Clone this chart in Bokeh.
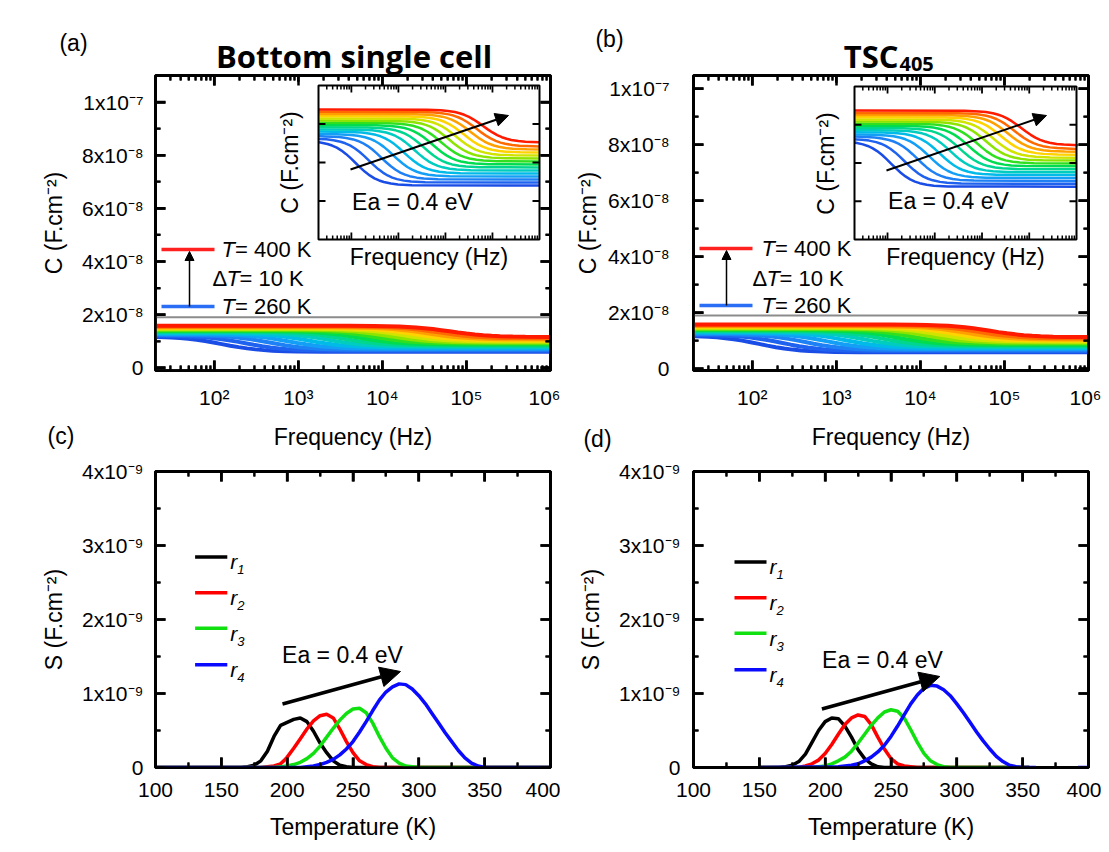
import math
from bokeh.plotting import figure
from bokeh.models import Range1d, LinearAxis, LogAxis, FixedTicker, Label, Arrow, NormalHead, GridBox
from bokeh.embed import file_html
from bokeh.resources import INLINE

FONT = "Liberation Sans"
TITLE_FONT = "Open Sans"

# ---------------------------------------------------------------- data
temperatures_K = [260, 270, 280, 290, 300, 310, 320, 330, 340, 350, 360, 370, 380, 390, 400]
curve_colors = ["#1a4ce6", "#1f62ef", "#1e80f5", "#129ff5", "#00bae8", "#00ccc0", "#00d690",
                "#00dc50", "#30e020", "#8ce400", "#d0e400", "#ffd200", "#ffa000", "#ff6a00", "#ff1a00"]

# capacitance, in units of 1e-8 F/cm2
lowf_C_a = [1.186, 1.214, 1.243, 1.271, 1.301, 1.330, 1.358, 1.387, 1.415, 1.444, 1.473, 1.501, 1.531, 1.560, 1.588]
highf_C_a = [0.601, 0.640, 0.679, 0.718, 0.757, 0.796, 0.835, 0.874, 0.913, 0.952, 0.991, 1.030, 1.069, 1.108, 1.160]
logf_step_a = [2.09, 2.37, 2.64, 2.89, 3.12, 3.34, 3.54, 3.73, 3.91, 4.08, 4.24, 4.39, 4.53, 4.67, 4.80]

lowf_C_b = [1.190, 1.218, 1.246, 1.274, 1.302, 1.330, 1.358, 1.386, 1.414, 1.442, 1.470, 1.498, 1.526, 1.554, 1.585]
highf_C_b = [0.590, 0.628, 0.666, 0.704, 0.742, 0.780, 0.818, 0.856, 0.894, 0.932, 0.970, 1.008, 1.046, 1.084, 1.130]
logf_step_b = [2.08, 2.36, 2.63, 2.88, 3.11, 3.33, 3.53, 3.72, 3.90, 4.08, 4.24, 4.40, 4.55, 4.69, 4.83]

# shape of one step (offset in decades from the step centre, fraction of the step left)
step_offset_dec = [-1.2, -0.9, -0.75, -0.6, -0.5, -0.4, -0.3, -0.2, -0.1, 0.0,
                   0.1, 0.2, 0.3, 0.4, 0.5, 0.6, 0.75, 0.9, 1.2]
step_fraction = [0.993, 0.977, 0.957, 0.923, 0.888, 0.840, 0.776, 0.696, 0.602, 0.500,
                 0.398, 0.304, 0.224, 0.160, 0.112, 0.077, 0.043, 0.023, 0.007]

F_MIN, F_MAX = 20, 1000000
C_MIN = -0.1
INSET_C_MAX = 1.9
freq_major_ticks = [100, 1000, 10000, 100000, 1000000]
freq_major_labels = ["10²", "10³", "10⁴", "10⁵", "10⁶"]
freq_minor_ticks = [m * 10 ** k for k in range(1, 6) for m in range(2, 10) if m * 10 ** k >= 20]
C_major_ticks = [0, 2, 4, 6, 8, 10]
C_major_labels = ["0", "2x10⁻⁸", "4x10⁻⁸", "6x10⁻⁸", "8x10⁻⁸", "1x10⁻⁷"]
C_minor_ticks = [1, 3, 5, 7, 9]
inset_C_ticks = [0.4, 0.9, 1.4]

# S(T) curves, S in units of 1e-9 F/cm2
r1_T_c = [100, 165, 170, 175, 180, 185, 190, 195, 200, 205, 210, 215, 220, 225, 230, 235, 240, 245, 250, 400]
r1_S_c = [0, 0, 0.01, 0.03, 0.09, 0.22, 0.42, 0.57, 0.61, 0.65, 0.67, 0.62, 0.49, 0.33, 0.20, 0.09, 0.03, 0.01, 0, 0]
r2_T_c = [100, 180, 185, 190, 195, 198, 200, 205, 210, 215, 220, 225, 230, 235, 240, 245, 250, 255, 260, 265, 270, 400]
r2_S_c = [0, 0, 0.01, 0.02, 0.05, 0.10, 0.14, 0.26, 0.39, 0.52, 0.63, 0.70, 0.72, 0.67, 0.52, 0.35, 0.20, 0.09, 0.04, 0.01, 0, 0]
r3_T_c = [100, 190, 195, 200, 205, 210, 215, 220, 225, 230, 235, 240, 245, 250, 255, 260, 265, 270, 275, 280, 285, 290, 295, 300, 400]
r3_S_c = [0, 0, 0.01, 0.02, 0.04, 0.07, 0.12, 0.19, 0.29, 0.41, 0.53, 0.64, 0.73, 0.79, 0.80, 0.74, 0.60, 0.42, 0.26, 0.13, 0.06, 0.02, 0.01, 0, 0]
r4_T_c = [100, 210, 215, 220, 225, 230, 235, 240, 245, 250, 255, 260, 265, 270, 275, 280, 285, 290, 295, 300,
          305, 310, 315, 320, 325, 330, 335, 340, 345, 350, 400]
r4_S_c = [0, 0, 0.01, 0.02, 0.04, 0.07, 0.11, 0.17, 0.25, 0.35, 0.48, 0.62, 0.77, 0.91, 1.02, 1.09, 1.13, 1.12, 1.06, 0.97,
          0.86, 0.73, 0.60, 0.47, 0.35, 0.23, 0.13, 0.06, 0.02, 0, 0]

r1_T_d = [150, 165, 170, 175, 180, 185, 190, 195, 200, 205, 210, 215, 220, 225, 230, 235, 240, 245, 355]
r1_S_d = [0, 0, 0.01, 0.03, 0.08, 0.18, 0.34, 0.50, 0.62, 0.67, 0.66, 0.56, 0.41, 0.24, 0.12, 0.05, 0.01, 0, 0]
r2_T_d = [150, 180, 185, 190, 195, 200, 205, 210, 215, 220, 225, 230, 235, 240, 245, 250, 255, 260, 265, 270, 355]
r2_S_d = [0, 0, 0.02, 0.05, 0.10, 0.19, 0.31, 0.45, 0.58, 0.67, 0.71, 0.69, 0.58, 0.41, 0.25, 0.12, 0.05, 0.02, 0.01, 0, 0]
r3_T_d = [150, 190, 195, 200, 205, 210, 215, 220, 225, 230, 235, 240, 245, 250, 255, 260, 265, 270, 275, 280, 285, 290, 295, 355]
r3_S_d = [0, 0, 0.01, 0.02, 0.05, 0.09, 0.14, 0.22, 0.33, 0.45, 0.57, 0.67, 0.75, 0.78, 0.76, 0.67, 0.51, 0.34, 0.19, 0.09, 0.04, 0.01, 0, 0]
r4_T_d = [150, 210, 215, 220, 225, 230, 235, 240, 245, 250, 255, 260, 265, 270, 275, 280, 285, 290, 295, 300,
          305, 310, 315, 320, 325, 330, 335, 340, 345, 350, 360]
r4_S_d = [0, 0.01, 0.02, 0.03, 0.05, 0.09, 0.14, 0.21, 0.30, 0.42, 0.56, 0.71, 0.86, 0.98, 1.07, 1.11, 1.10, 1.05, 0.97, 0.86,
          0.74, 0.61, 0.48, 0.36, 0.25, 0.15, 0.08, 0.03, 0.01, 0, 0]
r4_tail_T_d = [392, 400]
r4_tail_S_d = [0, 0]

S_colors = ["black", "#ff0000", "#10e010", "#0a0aff"]
S_names = ["1", "2", "3", "4"]
T_major_ticks = [100, 150, 200, 250, 300, 350, 400]
T_minor_ticks = [125, 175, 225, 275, 325, 375]
S_major_ticks = [0, 1, 2, 3, 4]
S_major_labels = ["0", "1x10⁻⁹", "2x10⁻⁹", "3x10⁻⁹", "4x10⁻⁹"]
S_minor_ticks = [0.5, 1.5, 2.5, 3.5]

# ---------------------------------------------------------------- page geometry (pixels)
PAGE_W, PAGE_H = 1101, 842
COL_W = (560, 541)
ROW_H = (452, 390)
LEFT_B = (155, 133)
RIGHT_B = (10, 13)
TOP_B = (75, 19)
BOTTOM_B = (82, 74)


# ---------------------------------------------------------------- helpers
def axis_style(ax, show_labels=True, standoff=10):
    ax.axis_line_width = 2.5
    ax.axis_line_color = "black"
    ax.major_tick_in = 10
    ax.major_tick_out = 0
    ax.minor_tick_in = 5
    ax.minor_tick_out = 0
    ax.major_tick_line_width = 2.5
    ax.minor_tick_line_width = 2
    ax.major_tick_line_color = "black"
    ax.minor_tick_line_color = "black"
    ax.major_label_text_font = FONT
    if show_labels:
        ax.major_label_text_font_size = "21px"
        ax.major_label_text_color = "black"
        ax.major_label_standoff = standoff
    else:
        ax.major_label_text_font_size = "2px"
        ax.major_label_text_alpha = 0
        ax.major_label_standoff = 0
    ax.axis_label_text_font = FONT
    ax.axis_label_text_font_size = "23px"
    ax.axis_label_text_font_style = "normal"
    ax.axis_label_text_color = "black"


def tick_marks(p, xr, yr, fw, fh, xlog, xmaj, xmin, ymaj, ymin, lens=(10, 5), widths=(2.6, 2.0), **kw):
    """Inward tick marks on the four sides of a box, drawn as thin filled bars."""
    uy = (yr[1] - yr[0]) / fh
    if xlog:
        dx = (math.log10(xr[1]) - math.log10(xr[0])) / fw

        def xs(x, n):
            return x * 10 ** (n * dx)
    else:
        ux = (xr[1] - xr[0]) / fw

        def xs(x, n):
            return x + n * ux
    L, R, B, T = [], [], [], []
    for ticks_x, ticks_y, n, w in ((xmaj, ymaj, lens[0], widths[0]), (xmin, ymin, lens[1], widths[1])):
        for t in ticks_x:
            if xr[0] < t < xr[1]:
                lft, rgt = xs(t, -w / 2), xs(t, w / 2)
                L += [lft, lft]
                R += [rgt, rgt]
                B += [yr[0], yr[1] - n * uy]
                T += [yr[0] + n * uy, yr[1]]
        for v in ticks_y:
            if yr[0] < v < yr[1]:
                bot, top = v - w / 2 * uy, v + w / 2 * uy
                L += [xr[0], xs(xr[1], -n)]
                R += [xs(xr[0], n), xr[1]]
                B += [bot, bot]
                T += [top, top]
    p.quad(left=L, right=R, bottom=B, top=T, fill_color="black", line_color=None, **kw)


def geom(col, row):
    page = (sum(COL_W[:col]), sum(ROW_H[:row]))
    borders = (LEFT_B[col], RIGHT_B[col], TOP_B[row], BOTTOM_B[row])
    return page, COL_W[col], ROW_H[row], borders


def mapper(page, borders, fw, fh, xr, yr, xlog):
    fl = page[0] + borders[0]
    ft = page[1] + borders[2]

    def X(px):
        t = (px - fl) / fw
        if xlog:
            a, b = math.log10(xr[0]), math.log10(xr[1])
            return 10 ** (a + t * (b - a))
        return xr[0] + t * (xr[1] - xr[0])

    def Y(py):
        t = (ft + fh - py) / fh
        return yr[0] + t * (yr[1] - yr[0])
    return X, Y


def label(p, x, y, text, size="22px", align="left", baseline="middle", style="normal",
          font=FONT, angle=0.0, x_offset=0, color="black", place=None):
    lab = Label(x=x, y=y, text=text, text_font=font, text_font_size=size, text_align=align,
                text_baseline=baseline, text_font_style=style, angle=angle,
                x_offset=x_offset, text_color=color)
    if place is None:
        p.add_layout(lab)
    else:
        p.add_layout(lab, place)


def build_curves(lowf, highf, centers):
    out = []
    for cl, ch, c in zip(lowf, highf, centers):
        xs = [10 ** (c + o) for o in step_offset_dec]
        ys = [ch + (cl - ch) * fr for fr in step_fraction]
        if xs[0] > F_MIN:
            xs.insert(0, F_MIN)
            ys.insert(0, cl)
        if xs[-1] < F_MAX:
            xs.append(F_MAX)
            ys.append(ch)
        out.append((xs, ys))
    return out


def new_fig(width, height, borders, **kw):
    bl, br, bt, bb = borders
    p = figure(width=width, height=height, output_backend="svg", toolbar_location=None,
               min_border_left=bl, min_border_right=br, min_border_top=bt, min_border_bottom=bb,
               outline_line_color="black", outline_line_width=3,
               background_fill_color="white", border_fill_color="white", **kw)
    p.xgrid.visible = False
    p.ygrid.visible = False
    return p


def c_freq_panel(col, row, yr, lowf, highf, centers, inset_box, ytick_standoff, ylabel_standoff):
    page, width, height, borders = geom(col, row)
    bl, br, bt, bb = borders
    fw, fh = width - bl - br, height - bt - bb
    p = new_fig(width, height, borders, x_axis_type="log",
                x_range=Range1d(F_MIN, F_MAX), y_range=Range1d(yr[0], yr[1]))
    xb = p.xaxis[0]
    yl = p.yaxis[0]
    xb.ticker = FixedTicker(ticks=freq_major_ticks, minor_ticks=freq_minor_ticks)
    xb.major_label_overrides = dict(zip(freq_major_ticks, freq_major_labels))
    axis_style(xb, standoff=15)
    xb.axis_label = "Frequency (Hz)"
    xb.axis_label_standoff = 12
    yl.ticker = FixedTicker(ticks=C_major_ticks, minor_ticks=C_minor_ticks)
    yl.major_label_overrides = dict(zip(C_major_ticks, C_major_labels))
    axis_style(yl, standoff=ytick_standoff)
    yl.axis_label = "C (F.cm⁻²)"
    yl.axis_label_standoff = ylabel_standoff
    top = LogAxis(ticker=FixedTicker(ticks=freq_major_ticks, minor_ticks=freq_minor_ticks))
    axis_style(top, show_labels=False)
    p.add_layout(top, "above")
    right = LinearAxis(ticker=FixedTicker(ticks=C_major_ticks, minor_ticks=C_minor_ticks))
    axis_style(right, show_labels=False)
    p.add_layout(right, "right")

    curves = build_curves(lowf, highf, centers)
    for (xs, ys), c in zip(curves, curve_colors):
        p.line(xs, ys, line_color=c, line_width=4)
    p.quad(left=[F_MIN], right=[F_MAX], bottom=[C_MIN], top=[INSET_C_MAX],
           fill_color=None, line_color="#8c8c8c", line_width=2)
    tick_marks(p, (F_MIN, F_MAX), yr, fw, fh, True, freq_major_ticks, freq_minor_ticks,
               C_major_ticks, C_minor_ticks)

    # inset: same data, magnified into the box given in page pixels
    IL, IT, IR, IB = inset_box
    FL = page[0] + bl
    FT = page[1] + bt
    lx0, lx1 = math.log10(F_MIN), math.log10(F_MAX)
    dpp = (lx1 - lx0) / (IR - IL)
    upp = (INSET_C_MAX - C_MIN) / (IB - IT)
    p.extra_x_ranges = {"ix": Range1d(10 ** (lx0 - (IL - FL) * dpp), 10 ** (lx1 + (FL + fw - IR) * dpp))}
    p.extra_y_ranges = {"iy": Range1d(C_MIN - (FT + fh - IB) * upp, INSET_C_MAX + (IT - FT) * upp)}
    kw = dict(x_range_name="ix", y_range_name="iy")
    for (xs, ys), c in zip(curves, curve_colors):
        p.line(xs, ys, line_color=c, line_width=2.5, **kw)
    p.quad(left=[10 ** (lx0 - 0.5)], right=[F_MIN], bottom=[C_MIN - 0.05], top=[INSET_C_MAX + 0.05],
           fill_color="white", line_color=None, **kw)
    tick_marks(p, (F_MIN, F_MAX), (C_MIN, INSET_C_MAX), IR - IL, IB - IT, True,
               freq_major_ticks, freq_minor_ticks, inset_C_ticks, [], lens=(7, 4), widths=(1.8, 1.5), **kw)
    p.quad(left=[F_MIN], right=[F_MAX], bottom=[C_MIN], top=[INSET_C_MAX],
           fill_color=None, line_color="black", line_width=2, **kw)
    X, Y = mapper(page, borders, fw, fh, (F_MIN, F_MAX), yr, True)
    return p, X, Y


def c_annotations(p, X, Y, leg, ins):
    lx0, lx1, y_hi, y_lo, ax_x, t_x, d_x, d_y = leg
    p.line([X(lx0), X(lx1)], [Y(y_hi), Y(y_hi)], line_color="#ff2020", line_width=3.5)
    p.line([X(lx0), X(lx1)], [Y(y_lo), Y(y_lo)], line_color="#2a6ef5", line_width=3.5)
    p.add_layout(Arrow(end=NormalHead(size=9, fill_color="black", line_color="black", line_width=1),
                       x_start=X(ax_x), y_start=Y(y_lo), x_end=X(ax_x), y_end=Y(y_hi + 2),
                       line_color="black", line_width=1.5))
    for yy, txt in ((y_hi, "= 400 K"), (y_lo, "= 260 K")):
        label(p, X(t_x), Y(yy), "T", style="italic")
        label(p, X(t_x), Y(yy), txt, x_offset=13.5)
    label(p, X(d_x), Y(d_y), "Δ")
    label(p, X(d_x), Y(d_y), "T", style="italic", x_offset=14)
    label(p, X(d_x), Y(d_y), " = 10 K", x_offset=27)
    ea, fq, yl, arr = ins
    label(p, X(ea[0]), Y(ea[1]), "Ea = 0.4 eV", size="23px", align="center")
    label(p, X(fq[0]), Y(fq[1]), "Frequency (Hz)", size="23px", align="center")
    label(p, X(yl[0]), Y(yl[1]), "C (F.cm⁻²)", size="23px", align="center", angle=math.pi / 2)
    p.add_layout(Arrow(end=NormalHead(size=13, fill_color="black", line_color="black", line_width=1),
                       x_start=X(arr[0]), y_start=Y(arr[1]), x_end=X(arr[2]), y_end=Y(arr[3]),
                       line_color="black", line_width=2))


def s_temp_panel(col, row, temps, values, extra, ytick_standoff, leg, arrow, ea):
    page, width, height, borders = geom(col, row)
    bl, br, bt, bb = borders
    fw, fh = width - bl - br, height - bt - bb
    p = new_fig(width, height, borders, x_range=Range1d(100, 400), y_range=Range1d(0, 4))
    xb = p.xaxis[0]
    yl = p.yaxis[0]
    xb.ticker = FixedTicker(ticks=T_major_ticks, minor_ticks=T_minor_ticks)
    axis_style(xb, standoff=15)
    xb.axis_label = "Temperature (K)"
    xb.axis_label_standoff = 14
    yl.ticker = FixedTicker(ticks=S_major_ticks, minor_ticks=S_minor_ticks)
    yl.major_label_overrides = dict(zip(S_major_ticks, S_major_labels))
    axis_style(yl, standoff=ytick_standoff)
    yl.axis_label = "S (F.cm⁻²)"
    yl.axis_label_standoff = 12
    top = LinearAxis(ticker=FixedTicker(ticks=T_major_ticks, minor_ticks=T_minor_ticks))
    axis_style(top, show_labels=False)
    p.add_layout(top, "above")
    right = LinearAxis(ticker=FixedTicker(ticks=S_major_ticks, minor_ticks=S_minor_ticks))
    axis_style(right, show_labels=False)
    p.add_layout(right, "right")
    tick_marks(p, (100, 400), (0, 4), fw, fh, False, T_major_ticks, T_minor_ticks,
               S_major_ticks, S_minor_ticks)
    for T, S, c in zip(temps, values, S_colors):
        p.line(T, S, line_color=c, line_width=3.5)
    for T, S, c in extra:
        p.line(T, S, line_color=c, line_width=3.5)
    X, Y = mapper(page, borders, fw, fh, (100, 400), (0, 4), False)
    lx0, lx1, ys = leg
    for yy, c, nm in zip(ys, S_colors, S_names):
        p.line([X(lx0), X(lx1)], [Y(yy), Y(yy)], line_color=c, line_width=3.5)
        label(p, X(lx1 + 3), Y(yy + 5), "r", size="21px", style="italic", baseline="alphabetic")
        label(p, X(lx1 + 10), Y(yy + 13), nm, size="13px", style="italic", baseline="alphabetic")
    p.add_layout(Arrow(end=NormalHead(size=20, fill_color="black", line_color="black", line_width=1),
                       x_start=X(arrow[0]), y_start=Y(arrow[1]), x_end=X(arrow[2]), y_end=Y(arrow[3]),
                       line_color="black", line_width=3.5))
    label(p, X(ea[0]), Y(ea[1]), "Ea = 0.4 eV", size="23px", align="center")
    return p


# ---------------------------------------------------------------- panels
pa, Xa, Ya = c_freq_panel(0, 0, (-0.1, 11.0), lowf_C_a, highf_C_a, logf_step_a, (318, 85, 539, 239), 12, 12)
c_annotations(pa, Xa, Ya, (161, 214, 249, 306, 189, 221, 212, 278),
              ((412, 201), (428.5, 256), (289, 162), (350, 169, 508, 115)))

pb, Xb, Yb = c_freq_panel(1, 0, (-0.06, 10.475), lowf_C_b, highf_C_b, logf_step_b, (854, 86, 1076, 239), 24, 4)
c_annotations(pb, Xb, Yb, (699, 752, 248, 305, 726, 761, 752, 278),
              ((948, 200), (965, 256), (825, 163), (886, 170, 1046, 115)))

pc = s_temp_panel(0, 1, [r1_T_c, r2_T_c, r3_T_c, r4_T_c], [r1_S_c, r2_S_c, r3_S_c, r4_S_c], [], 12,
                  (194.6, 226.8, [556.7, 592.7, 628.3, 665.0]), (282, 704.3, 400, 671.7), (342, 655))

pd_ = s_temp_panel(1, 1, [r1_T_d, r2_T_d, r3_T_d, r4_T_d], [r1_S_d, r2_S_d, r3_S_d, r4_S_d],
                   [(r4_tail_T_d, r4_tail_S_d, S_colors[3])], 13,
                   (734, 766, [561.7, 597.7, 633.3, 670.0]), (821.4, 709.3, 939.3, 676.7), (882, 660))

# transparent page-wide layer carrying the panel letters and titles; its frame lines up with the
# panel frames, so data coordinates equal page pixels
OV_L, OV_T = LEFT_B[0], TOP_B[0]
OV_R, OV_B = PAGE_W - RIGHT_B[1], PAGE_H - BOTTOM_B[1]
ov = figure(width=PAGE_W, height=PAGE_H, x_range=Range1d(OV_L, OV_R), y_range=Range1d(OV_B, OV_T),
            output_backend="svg", toolbar_location=None, x_axis_location=None, y_axis_location=None,
            min_border_left=LEFT_B[0], min_border_right=RIGHT_B[1], min_border_top=TOP_B[0],
            min_border_bottom=BOTTOM_B[1],
            background_fill_color=None, border_fill_color=None, outline_line_color=None)
ov.xgrid.visible = False
ov.ygrid.visible = False
label(ov, 73, 42, "(a)", size="23px", align="center", place="left")
label(ov, 609, 38, "(b)", size="23px", align="center", place="left")
label(ov, 60.5, 436, "(c)", size="23px", align="center", place="left")
label(ov, 597, 439, "(d)", size="23px", align="center", place="left")
label(ov, 353.6, 55, "Bottom single cell", size="31px", align="center", baseline="alphabetic",
      style="bold", font=TITLE_FONT, place="above")
label(ov, 898, 55, "TSC", size="31px", align="right", baseline="alphabetic", style="bold",
      font=TITLE_FONT, place="below")
label(ov, 899, 63, "405", size="20px", align="left", baseline="alphabetic", style="bold",
      font=TITLE_FONT, place="below")

layout = GridBox(children=[(pa, 0, 0), (pb, 0, 1), (pc, 1, 0), (pd_, 1, 1), (ov, 0, 0, 2, 2)], spacing=0)
open("out.html", "w").write(file_html(layout, INLINE))
